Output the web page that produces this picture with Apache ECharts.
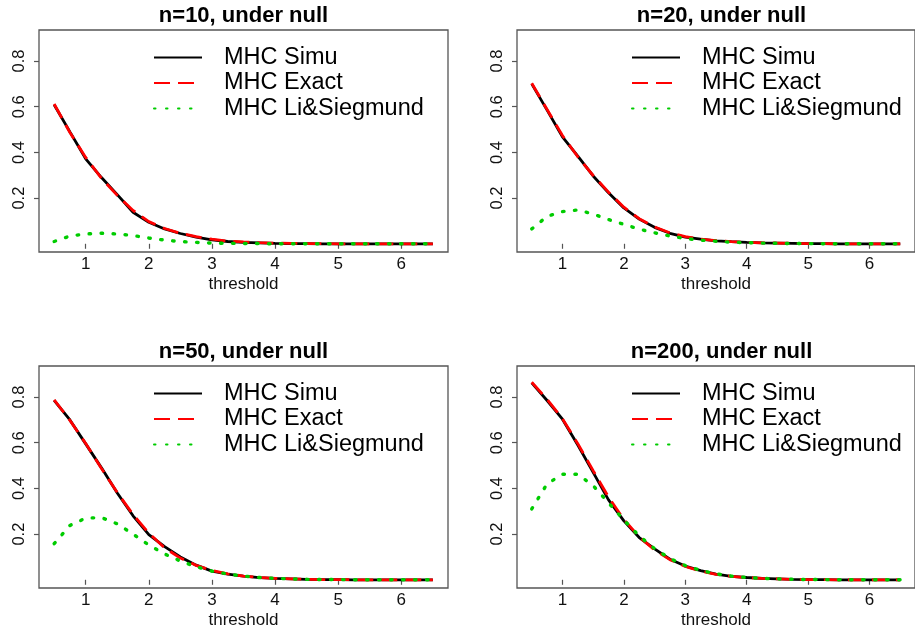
<!DOCTYPE html>
<html>
<head>
<meta charset="utf-8">
<script src="https://cdn.jsdelivr.net/npm/echarts@6/dist/echarts.min.js"></script>
<style>
html,body{margin:0;padding:0;background:#fff;}
#chart{width:915px;height:630px;}
</style>
</head>
<body>
<div id="chart"></div>
<script>
// ---------- data ----------
var threshold = [0.5,0.75,1,1.25,1.5,1.75,2,2.25,2.5,2.75,3,3.25,3.5,3.75,4,4.25,4.5,4.75,5,5.25,5.5,5.75,6,6.25,6.5];
var xTicks = [1,2,3,4,5,6];
var yTicks = [0.2,0.4,0.6,0.8];
var seriesNames = ['MHC Simu','MHC Exact','MHC Li&Siegmund'];
var panelTitles = ['n=10, under null','n=20, under null','n=50, under null','n=200, under null'];

var n10Simu  = [0.609,0.49,0.372,0.29,0.215,0.138,0.094,0.065,0.045,0.029,0.017,0.01,0.006,0.004,0.002,0.001,0.001,0,0,0,0,0,0,0,0];
var n10Exact = [0.612,0.487,0.378,0.287,0.212,0.146,0.097,0.067,0.046,0.031,0.02,0.012,0.008,0.005,0.003,0.002,0.001,0.001,0,0,0,0,0,0,0];
var n10LS    = [0.010,0.034,0.043,0.046,0.043,0.036,0.025,0.016,0.010,0.006,0.003,0.002,0.001,0.001,0,0,0,0,0,0,0,0,0,0,0];

var n20Simu  = [0.70,0.585,0.468,0.384,0.297,0.223,0.157,0.108,0.072,0.046,0.029,0.02,0.013,0.009,0.006,0.004,0.003,0.002,0.001,0.001,0,0,0,0,0];
var n20Exact = [0.703,0.588,0.474,0.381,0.299,0.226,0.16,0.11,0.074,0.048,0.031,0.021,0.014,0.009,0.006,0.004,0.003,0.002,0.001,0.001,0,0,0,0,0];
var n20LS    = [0.065,0.12,0.141,0.148,0.13,0.106,0.085,0.064,0.048,0.034,0.023,0.016,0.011,0.007,0.005,0.003,0.002,0.001,0.001,0,0,0,0,0,0];

var n50Simu  = [0.786,0.70,0.595,0.49,0.38,0.28,0.198,0.145,0.10,0.064,0.038,0.025,0.016,0.009,0.006,0.004,0.002,0.001,0.001,0,0,0,0,0,0];
var n50Exact = [0.788,0.698,0.597,0.487,0.382,0.286,0.204,0.14,0.095,0.063,0.041,0.026,0.016,0.01,0.006,0.004,0.002,0.001,0.001,0,0,0,0,0,0];
var n50LS    = [0.158,0.238,0.27,0.272,0.245,0.2,0.152,0.113,0.082,0.057,0.038,0.025,0.016,0.01,0.006,0.004,0.002,0.001,0.001,0,0,0,0,0,0];

var n200Simu  = [0.862,0.785,0.703,0.59,0.47,0.35,0.258,0.185,0.135,0.09,0.06,0.04,0.025,0.015,0.01,0.006,0.004,0.002,0.001,0.001,0,0,0,0,0];
var n200Exact = [0.865,0.79,0.705,0.596,0.478,0.362,0.264,0.188,0.13,0.088,0.058,0.038,0.024,0.015,0.009,0.006,0.004,0.002,0.001,0.001,0,0,0,0,0];
var n200LS    = [0.31,0.42,0.462,0.462,0.412,0.337,0.262,0.192,0.136,0.093,0.062,0.041,0.026,0.016,0.01,0.006,0.004,0.002,0.001,0.001,0,0,0,0,0];

var panelData = [
  [n10Simu, n10Exact, n10LS],
  [n20Simu, n20Exact, n20LS],
  [n50Simu, n50Exact, n50LS],
  [n200Simu, n200Exact, n200LS]
];

// ---------- layout / style ----------
var FONT = "'Liberation Sans', Arial, Helvetica, sans-serif";
var panels = [
  {left: 39,  top: 30},
  {left: 517, top: 30},
  {left: 39,  top: 366},
  {left: 517, top: 366}
];
var GW = 409, GH = 222;
var lineStyles = [
  {color: '#000000', width: 2.8, type: 'solid'},
  {color: '#FF0000', width: 2.8, type: [16, 8]},
  {color: '#00CC00', width: 3.4, type: [1.5, 10.5], cap: 'round'}
];
var TITLE_SIZE = 22;

function textWidth(str, font) {
  var c = document.createElement('canvas').getContext('2d');
  c.font = font;
  return c.measureText(str).width;
}

var grids = [], xAxes = [], yAxes = [], titles = [], legends = [], series = [];
panels.forEach(function (p, i) {
  grids.push({left: p.left, top: p.top, width: GW, height: GH, show: true,
    borderColor: '#555', borderWidth: 1.3, backgroundColor: 'transparent'});
  xAxes.push({
    type: 'value', gridIndex: i, min: 0.26, max: 6.74,
    name: 'threshold', nameLocation: 'middle', nameGap: 24,
    nameTextStyle: {fontFamily: FONT, fontSize: 17, color: '#111'},
    axisLine: {show: false},
    axisTick: {show: true, length: 5, customValues: xTicks, lineStyle: {color: '#555', width: 1.2}},
    axisLabel: {show: true, customValues: xTicks, margin: 4, fontFamily: FONT, fontSize: 17, color: '#111'},
    splitLine: {show: false}
  });
  yAxes.push({
    type: 'value', gridIndex: i, min: -0.036, max: 0.936,
    axisLine: {show: false},
    axisTick: {show: true, length: 5, customValues: yTicks, lineStyle: {color: '#555', width: 1.2}},
    axisLabel: {show: true, customValues: yTicks, rotate: 90, margin: 11, fontFamily: FONT, fontSize: 16.5, color: '#111',
      formatter: function (v) { return v.toFixed(1); }},
    splitLine: {show: false}
  });
  var cx = p.left + GW / 2;
  var tw = textWidth(panelTitles[i], 'bold ' + TITLE_SIZE + 'px ' + FONT);
  titles.push({
    text: panelTitles[i], left: cx - tw / 2 - 5, top: p.top - 30,
    textStyle: {fontFamily: FONT, fontSize: TITLE_SIZE, fontWeight: 'bold', color: '#000'}
  });
  legends.push({
    data: seriesNames, orient: 'vertical', left: p.left + 109, top: p.top + 10,
    itemWidth: 48, itemHeight: 20, itemGap: 0.5,
    itemStyle: {opacity: 0, borderWidth: 0},
    textStyle: {fontFamily: FONT, fontSize: 23.5, lineHeight: 25, color: '#000', padding: [0, 0, 0, 17]},
    selectedMode: false
  });
  for (var s = 0; s < 3; s++) {
    var pts = threshold.map(function (x, k) { return [x, panelData[i][s][k]]; });
    series.push({
      name: seriesNames[s], type: 'line', xAxisIndex: i, yAxisIndex: i,
      data: pts, symbol: 'none', showSymbol: false, smooth: false,
      lineStyle: lineStyles[s], itemStyle: {color: lineStyles[s].color},
      z: 2 + s, animation: false, silent: true
    });
  }
});

var chart = echarts.init(document.getElementById('chart'), null, {renderer: 'canvas'});
chart.setOption({
  backgroundColor: '#ffffff',
  animation: false,
  title: titles,
  legend: legends,
  grid: grids,
  xAxis: xAxes,
  yAxis: yAxes,
  series: series
});
</script>
</body>
</html>
